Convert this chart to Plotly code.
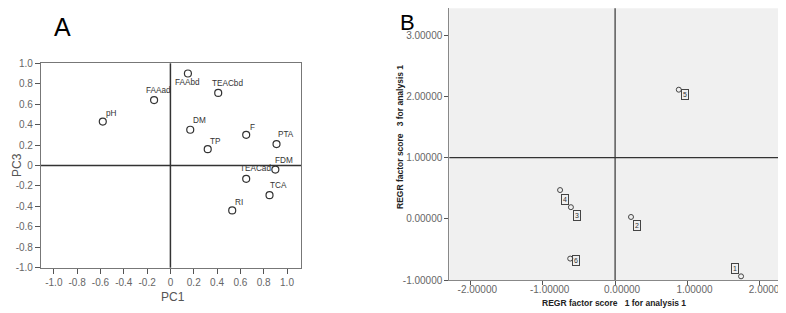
import plotly.graph_objects as go

W, H = 786, 313
OFF = 8  # the page places the figure 8 px from the top-left corner
FONT = "Arial, Liberation Sans, sans-serif"

# ---------------- Panel A data (loadings) ----------------
a_vars = ["pH", "FAAad", "FAAbd", "TEACbd", "DM", "TP", "F", "PTA", "FDM", "TEACad", "TCA", "RI"]
a_pc1 = [-0.58, -0.14, 0.15, 0.41, 0.17, 0.32, 0.65, 0.91, 0.90, 0.65, 0.85, 0.53]
a_pc3 = [0.43, 0.64, 0.90, 0.71, 0.35, 0.16, 0.30, 0.21, -0.04, -0.13, -0.29, -0.44]
a_tickvals = [-1.0, -0.8, -0.6, -0.4, -0.2, 0.0, 0.2, 0.4, 0.6, 0.8, 1.0]
a_ticktext = ["-1.0", "-0.8", "-0.6", "-0.4", "-0.2", "0", "0.2", "0.4", "0.6", "0.8", "1.0"]

# ---------------- Panel B data (factor scores) ----------------
b_labels = ["1", "2", "3", "4", "5", "6"]
b_score1 = [1.74, 0.22, -0.61, -0.76, 0.88, -0.62]
b_score3 = [-0.94, 0.03, 0.19, 0.47, 2.11, -0.65]
b_xtickvals = [-2, -1, 0, 1, 2]
b_xticktext = ["-2.00000", "-1.00000", "0.00000", "1.00000", "2.00000"]
b_ytickvals = [-1, 0, 1, 2, 3]
b_yticktext = ["-1.00000", "0.00000", "1.00000", "2.00000", "3.00000"]

# label offsets in pixels (styling only)
a_label_shift = {"pH": (9, 8), "FAAad": (4, 10), "FAAbd": (0, -9), "TEACbd": (9, 9),
                 "DM": (9, 9), "TP": (8, 8), "F": (6, 7), "PTA": (9, 10), "FDM": (9, 9),
                 "TEACad": (9, 10), "TCA": (9, 10), "RI": (7, 8)}
b_label_shift = {"1": (-6, 8), "2": (6, -9), "3": (6, -8), "4": (5, -9), "5": (6, -5), "6": (6, -2)}


def px_x(p):
    return (p - OFF) / W


def px_y(p):
    return 1 - (p - OFF) / H


fig = go.Figure()

fig.add_trace(go.Scatter(
    x=a_pc1, y=a_pc3, mode="markers", xaxis="x", yaxis="y",
    marker=dict(symbol="circle-open", size=7, color="#333333", line=dict(width=1.2)),
    hoverinfo="skip", showlegend=False))

fig.add_trace(go.Scatter(
    x=b_score1, y=b_score3, mode="markers", xaxis="x2", yaxis="y2",
    marker=dict(symbol="circle-open", size=5, color="#444444", line=dict(width=1)),
    hoverinfo="skip", showlegend=False))

annotations = []
for name, xv, yv in zip(a_vars, a_pc1, a_pc3):
    dx, dy = a_label_shift[name]
    annotations.append(dict(x=xv, y=yv, xref="x", yref="y", text=name, showarrow=False,
                            xanchor="center", yanchor="middle",
                            xshift=dx, yshift=dy, font=dict(family=FONT, size=8.2, color="#333333")))
for name, xv, yv in zip(b_labels, b_score1, b_score3):
    dx, dy = b_label_shift[name]
    annotations.append(dict(x=xv, y=yv, xref="x2", yref="y2", text=name, showarrow=False,
                            xanchor="center", yanchor="middle",
                            xshift=dx, yshift=dy, font=dict(family=FONT, size=7, color="#333333"),
                            bordercolor="#444444", borderwidth=1, borderpad=1))


def paper_text(x, y, text, size, color, angle=0, bold=False, xanchor="center", yanchor="middle"):
    return dict(x=px_x(x), y=px_y(y), xref="paper", yref="paper", text=text, showarrow=False,
                xanchor=xanchor, yanchor=yanchor, textangle=angle,
                font=dict(family=FONT, size=size, color=color, weight="bold" if bold else "normal"))


annotations += [
    paper_text(62, 27, "A", 25, "black"),
    paper_text(407, 8, "B", 22, "black", yanchor="top"),
    paper_text(173, 297, "PC1", 12, "#555555"),
    paper_text(8, 165, "PC3", 12, "#555555", angle=-90, xanchor="left"),
    paper_text(614, 303, "REGR factor score   1 for analysis 1", 8.5, "#222222", bold=True),
    paper_text(400, 137, "REGR factor score   3 for analysis 1", 8.5, "#222222", angle=-90, bold=True),
]

shapes = [
    dict(type="line", xref="x", yref="y domain", x0=0, x1=0, y0=0, y1=1,
         line=dict(color="#333333", width=1.5)),
    dict(type="line", xref="x domain", yref="y", x0=0, x1=1, y0=0, y1=0,
         line=dict(color="#333333", width=1.5)),
    dict(type="line", xref="x2", yref="y2 domain", x0=0, x1=0, y0=0, y1=1,
         line=dict(color="#333333", width=1.2)),
    dict(type="line", xref="x2 domain", yref="y2", x0=0, x1=1, y0=1, y1=1,
         line=dict(color="#333333", width=1.2)),
    dict(type="rect", xref="x2 domain", yref="y2 domain", x0=0, x1=1, y0=0, y1=1,
         fillcolor="#f0f0f0", line=dict(width=0), layer="below"),
]

tickfont = dict(family=FONT, size=10, color="#666666")
common = dict(showgrid=False, zeroline=False, fixedrange=True, automargin=False, tickfont=tickfont)

fig.update_layout(
    width=W, height=H, margin=dict(l=0, r=0, t=0, b=0, pad=0, autoexpand=False),
    paper_bgcolor="white", plot_bgcolor="white",
    font=dict(family=FONT),
    xaxis=dict(domain=[px_x(41), px_x(301)], range=[-1.11, 1.12], anchor="y",
               tickvals=a_tickvals, ticktext=a_ticktext,
               ticks="outside", ticklen=5, tickcolor="#555555", tickwidth=1.2,
               showline=True, mirror=True, linecolor="#777777", linewidth=1.2, **common),
    yaxis=dict(domain=[px_y(267.7), px_y(63.3)], range=[-1.0, 1.0], anchor="x",
               tickvals=a_tickvals, ticktext=a_ticktext,
               ticks="outside", ticklen=5, tickcolor="#555555", tickwidth=1.2,
               showline=True, mirror=True, linecolor="#777777", linewidth=1.2, **common),
    xaxis2=dict(domain=[px_x(449.3), px_x(778.7)], range=[-2.29, 2.26], anchor="y2",
                tickvals=b_xtickvals, ticktext=b_xticktext,
                ticks="outside", ticklen=4, tickcolor="#555555",
                ticklabelstandoff=-4, ticklabelshift=7,
                showline=True, mirror=True, linecolor="#888888", linewidth=1, **common),
    yaxis2=dict(domain=[px_y(280), px_y(8.3)], range=[-1.0, 3.44], anchor="x2",
                tickvals=b_ytickvals, ticktext=b_yticktext,
                ticks="outside", ticklen=4, tickcolor="#555555",
                showline=True, mirror=True, linecolor="#888888", linewidth=1, **common),
    annotations=annotations,
    shapes=shapes,
)

fig.write_html("out.html")
